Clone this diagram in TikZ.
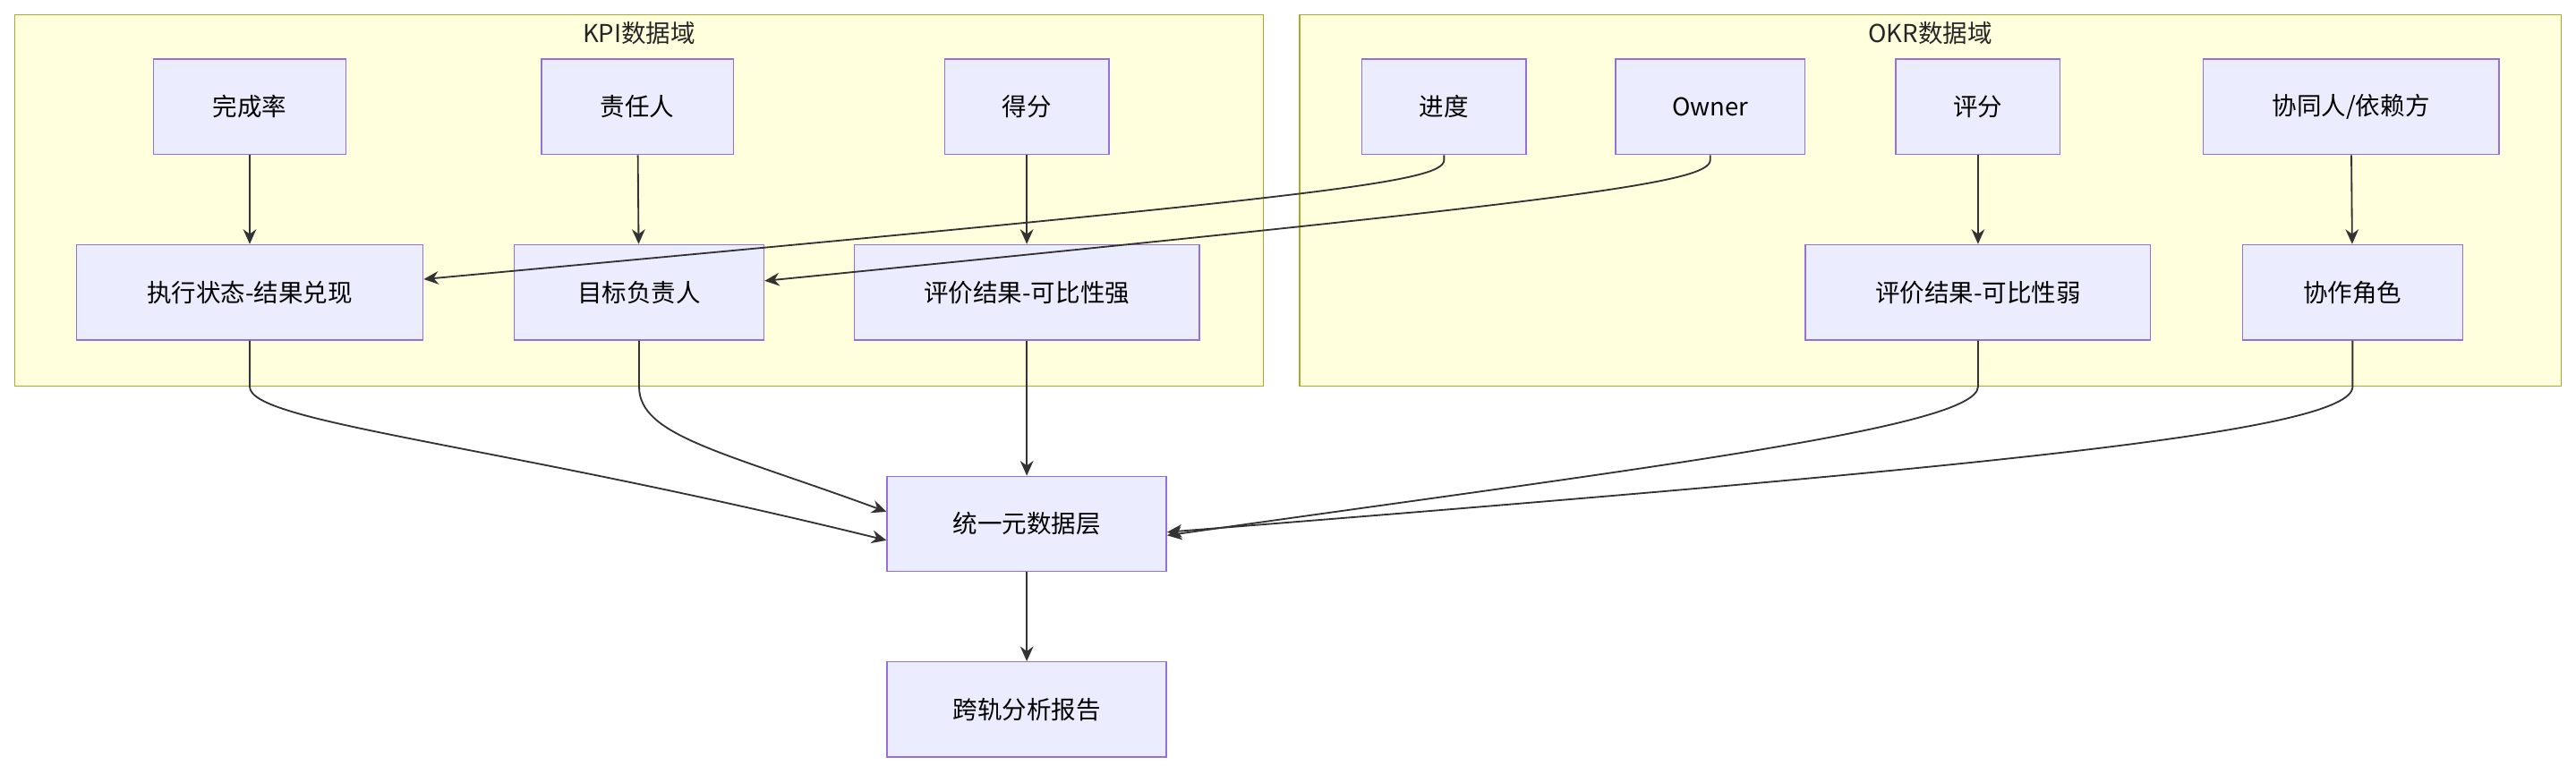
\documentclass[tikz,border=0pt]{standalone}
\usepackage{fontspec}
\setmainfont{Noto Sans CJK SC}
\usetikzlibrary{arrows.meta}
\definecolor{nfill}{HTML}{ECECFF}
\definecolor{ndraw}{HTML}{9370DB}
\definecolor{cfill}{HTML}{FFFFDE}
\definecolor{cdraw}{HTML}{AAAA33}
\definecolor{edge}{HTML}{333333}
\begin{document}
\begin{tikzpicture}[x=1pt,y=-1pt,
  box/.style={draw=ndraw,fill=nfill,line width=0.8pt,minimum height=58pt,inner sep=0pt,font=\fontsize{15}{18}\selectfont,text=black},
  clus/.style={draw=cdraw,fill=cfill,line width=0.8pt},
  ar/.style={draw=edge,line width=1pt,-{Stealth[length=9pt,width=8pt]}},
  ttl/.style={font=\fontsize{15}{18}\selectfont,text=black!85}]
\path[fill=white] (0,0) rectangle (1568,471);
\useasboundingbox (0,0) rectangle (1568,471);
\draw[clus] (9,9) rectangle (769,235);
\draw[clus] (791,9) rectangle (1559,235);
\node[ttl] (t1) at (389,20) {KPI数据域};
\node[ttl] (t2) at (1175,20) {OKR数据域};
\node[box,minimum width=117pt] (a1) at (152,65) {完成率};
\node[box,minimum width=117pt] (a2) at (388,65) {责任人};
\node[box,minimum width=100pt] (a3) at (625,65) {得分};
\node[box,minimum width=100pt] (a4) at (879,65) {进度};
\node[box,minimum width=115pt] (a5) at (1041,65) {Owner};
\node[box,minimum width=100pt] (a6) at (1204,65) {评分};
\node[box,minimum width=180pt] (a7) at (1431,65) {协同人/依赖方};
\node[box,minimum width=211pt] (b1) at (152,178) {执行状态-结果兑现};
\node[box,minimum width=152pt] (b2) at (389,178) {目标负责人};
\node[box,minimum width=210pt] (b3) at (625,178) {评价结果-可比性强};
\node[box,minimum width=210pt] (b4) at (1204,178) {评价结果-可比性弱};
\node[box,minimum width=134pt] (b5) at (1432,178) {协作角色};
\node[box,minimum width=170pt] (u) at (625,319) {统一元数据层};
\node[box,minimum width=170pt] (r) at (625,432) {跨轨分析报告};
\draw[ar] (a1) -- (b1);
\draw[ar] (a2) -- (b2);
\draw[ar] (a3) -- (b3);
\draw[ar] (a6) -- (b4);
\draw[ar] (a7) -- (b5);
\draw[ar] (a4.south) -- ++(0,3) .. controls +(0,14) and (800,120) .. (b1.east |- 0,170);
\draw[ar] (a5.south) -- ++(0,3) .. controls +(0,14) and (960,122) .. (b2.east |- 0,171);
\draw[ar] (b1.south) -- ++(0,28) .. controls +(0,22) and (300,270) .. ([yshift=-10pt]u.west);
\draw[ar] (b2.south) -- ++(0,28) .. controls +(0,30) and (440,275) .. ([yshift=-22pt]u.north west);
\draw[ar] (b3) -- (u);
\draw[ar] (b4.south) -- ++(0,28) .. controls +(0,25) and (1000,285) .. ([yshift=-7pt]u.east);
\draw[ar] (b5.south) -- ++(0,28) .. controls +(0,28) and (1200,285) .. ([yshift=-5pt]u.east);
\draw[ar] (u) -- (r);
\end{tikzpicture}
\end{document}
